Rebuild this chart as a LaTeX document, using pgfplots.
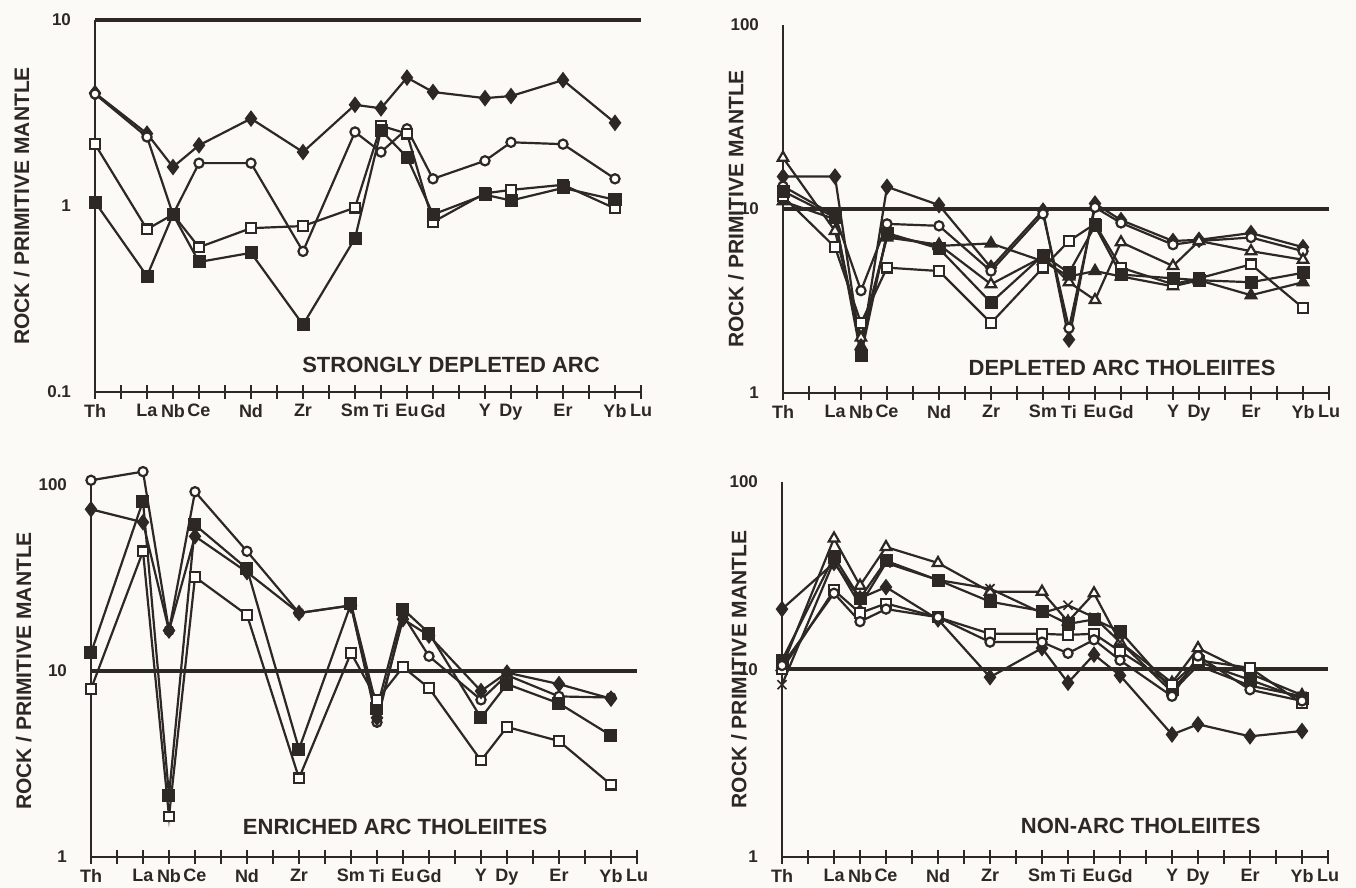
\documentclass[border=0pt]{standalone}
\usepackage{fontspec}
\setmainfont{Liberation Sans}
\usepackage{pgfplots}
\pgfplotsset{compat=1.18}
\definecolor{ink}{RGB}{45,40,36}
\definecolor{paper}{RGB}{251,250,247}
\tikzset{ttl/.style={font=\bfseries\fontsize{11}{13}\selectfont, text=ink}}
\pgfplotsset{
  myspider/.style={
    scale only axis, width=273pt,
    xmin=0, xmax=21,
    axis x line=bottom, axis y line=left,
    axis line style={-, line width=1pt, ink},
    xtick={0,...,21},
    xticklabels={Th,,La,Nb,Ce,,Nd,,Zr,,Sm,Ti,Eu,Gd,,Y,Dy,,Er,,Yb,Lu},
    x tick style={line width=0.8pt, ink},
    major tick length=7pt, tick align=center,
    y tick style={draw=none},
    clip=false,
    xticklabel style={font=\bfseries\fontsize{9}{10}\selectfont, text=ink, yshift=1pt},
    yticklabel style={font=\bfseries\fontsize{8.5}{10}\selectfont, text=ink, xshift=-5pt},
    ylabel={ROCK / PRIMITIVE MANTLE},
    ylabel style={anchor=center, font=\bfseries\fontsize{10.5}{12}\selectfont, text=ink},
    every axis plot/.append style={ink, line width=1.1pt, mark options={line width=0.7pt, solid}},
  },
  fdia/.style={mark=diamond*, mark size=3.3pt, mark options={fill=ink, draw=ink}},
  ocirc/.style={mark=*, mark size=2.3pt, mark options={fill=white, draw=ink}},
  osq/.style={mark=square*, mark size=2.4pt, mark options={fill=white, draw=ink}},
  fsq/.style={mark=square*, mark size=2.7pt, mark options={fill=ink, draw=ink}},
  otri/.style={mark=triangle*, mark size=3pt, mark options={fill=white, draw=ink}},
  ftri/.style={mark=triangle*, mark size=3pt, mark options={fill=ink, draw=ink}},
  xmk/.style={mark=x, mark size=3.2pt, mark options={draw=ink, line width=0.8pt}},
  refline/.style={ink, line width=2pt, no marks, forget plot},
}
\begin{document}
\begin{tikzpicture}
\fill[paper] (0,0) rectangle (678pt,444pt);
\useasboundingbox (0,0) rectangle (678pt,444pt);

% ---------------- Panel 1: strongly depleted arc
\begin{axis}[myspider, ymode=log, yminorticks=false, at={(47.5pt,248pt)}, anchor=south west, height=186pt,
  ymin=0.1, ymax=10, ytick={0.1,1,10}, yticklabels={0.1,1,10},
  ylabel style={at={(axis description cs:-0.134,0.5)}}]
\addplot[refline] coordinates {(0,10) (21,10)};
\addplot[fdia] coordinates {(0,4.05)(2,2.45)(3,1.62)(4,2.12)(6,2.95)(8,1.95)(10,3.5)(11,3.35)(12,4.9)(13,4.1)(15,3.8)(16,3.9)(18,4.75)(20,2.8)};
\addplot[ocirc] coordinates {(0,4.0)(2,2.35)(3,0.9)(4,1.7)(6,1.7)(8,0.57)(10,2.5)(11,1.95)(12,2.6)(13,1.4)(15,1.75)(16,2.2)(18,2.15)(20,1.4)};
\addplot[osq] coordinates {(0,2.15)(2,0.75)(3,0.9)(4,0.6)(6,0.76)(8,0.78)(10,0.98)(11,2.7)(12,2.45)(13,0.82)(15,1.17)(16,1.22)(18,1.3)(20,0.97)};
\addplot[fsq] coordinates {(0,1.05)(2,0.42)(3,0.9)(4,0.5)(6,0.56)(8,0.23)(10,0.67)(11,2.55)(12,1.83)(13,0.9)(15,1.15)(16,1.07)(18,1.25)(20,1.08)};
\node[ttl] at (rel axis cs:0.652,0.073) {STRONGLY DEPLETED ARC};
\end{axis}

% ---------------- Panel 2: depleted arc tholeiites
\begin{axis}[myspider, ymode=log, yminorticks=false, at={(391.5pt,247.5pt)}, anchor=south west, height=184pt,
  ymin=1, ymax=100, ytick={1,10,100}, yticklabels={1,10,100},
  ylabel style={at={(axis description cs:-0.086,0.5)}}]
\addplot[refline] coordinates {(0,10) (21,10)};
\addplot[fdia] coordinates {(0,15)(2,15)(3,1.7)(4,13.2)(6,10.5)(8,4.8)(10,9.8)(11,1.95)(12,10.7)(13,8.7)(15,6.7)(16,6.8)(18,7.4)(20,6.2)};
\addplot[ocirc] coordinates {(0,13.3)(2,9.2)(3,3.6)(4,8.3)(6,8.1)(8,4.6)(10,9.4)(11,2.25)(12,10.2)(13,8.4)(15,6.4)(16,6.7)(18,7.0)(20,5.9)};
\addplot[otri] coordinates {(0,19)(2,7.6)(3,2.0)(4,7.0)(6,6.4)(8,3.9)(10,5.5)(11,4.0)(12,3.2)(13,6.6)(15,4.9)(16,6.7)(18,5.9)(20,5.3)};
\addplot[ftri] coordinates {(0,11)(2,8.8)(3,1.8)(4,7.2)(6,6.3)(8,6.5)(10,5.2)(11,4.3)(12,4.6)(13,4.3)(15,3.8)(16,4.1)(18,3.4)(20,4.0)};
\addplot[osq] coordinates {(0,11.7)(2,6.2)(3,2.4)(4,4.8)(6,4.6)(8,2.4)(10,4.8)(11,6.7)(12,8.3)(13,4.8)(15,3.9)(16,4.2)(18,5.0)(20,2.9)};
\addplot[fsq] coordinates {(0,12.5)(2,9.0)(3,1.6)(4,7.4)(6,6.1)(8,3.1)(10,5.6)(11,4.5)(12,8.1)(13,4.4)(15,4.2)(16,4.1)(18,4.0)(20,4.5)};
\node[ttl] at (rel axis cs:0.621,0.068) {DEPLETED ARC THOLEIITES};
\end{axis}

% ---------------- Panel 3: enriched arc tholeiites
\begin{axis}[myspider, ymode=log, yminorticks=false, at={(45.5pt,15.5pt)}, anchor=south west, height=186pt,
  ymin=1, ymax=100, ytick={1,10,100}, yticklabels={1,10,100},
  ylabel style={at={(axis description cs:-0.123,0.5)}}]
\addplot[refline] coordinates {(0,10) (21,10)};
\addplot[ocirc] coordinates {(0,106)(2,118)(3,16.5)(4,92)(6,44)(8,20.5)(10,22.5)(11,5.3)(12,20)(13,12)(15,7.0)(16,9.5)(18,7.3)(20,7.2)};
\addplot[fdia] coordinates {(0,74)(2,63)(3,16.5)(4,53)(6,34)(8,20.5)(10,22.5)(11,5.6)(12,19)(13,15.5)(15,7.8)(16,9.8)(18,8.5)(20,7.1)};
\addplot[fsq] coordinates {(0,12.5)(2,82)(3,2.15)(4,61)(6,35.5)(8,3.8)(10,23)(11,6.3)(12,21.5)(13,16)(15,5.6)(16,8.5)(18,6.7)(20,4.5)};
\addplot[osq] coordinates {(0,8.0)(2,44)(3,1.65)(4,32)(6,20)(8,2.65)(10,12.5)(11,7.0)(12,10.5)(13,8.1)(15,3.3)(16,5.0)(18,4.2)(20,2.45)};
\node[ttl] at (rel axis cs:0.557,0.08) {ENRICHED ARC THOLEIITES};
\end{axis}

% ---------------- Panel 4: non-arc tholeiites
\begin{axis}[myspider, ymode=log, yminorticks=false, at={(391pt,15.5pt)}, anchor=south west, height=187.5pt,
  ymin=1, ymax=100, ytick={1,10,100}, yticklabels={1,10,100},
  ylabel style={at={(axis description cs:-0.079,0.5)}}]
\addplot[refline] coordinates {(0,10) (21,10)};
\addplot[otri] coordinates {(0,10.3)(2,50)(3,28)(4,45)(6,37)(8,26)(10,26)(11,18)(12,25.5)(13,14)(15,8.5)(16,13)(18,9.5)(20,7.3)};
\addplot[fsq] coordinates {(0,11.2)(2,40)(3,24)(4,38)(6,30)(8,23)(10,20.5)(11,17.5)(12,18.5)(13,16)(15,7.8)(16,11)(18,8.8)(20,7.0)};
\addplot[xmk] coordinates {(0,8.3)(2,38)(3,22)(4,37)(6,30)(8,27)(10,20)(11,22)(12,19)(13,14)(15,7.6)(16,10.5)(18,8.2)(20,7.2)};
\addplot[fdia] coordinates {(0,21)(2,37)(3,24)(4,27.5)(6,18.5)(8,9.1)(10,13)(11,8.5)(12,12)(13,9.3)(15,4.5)(16,5.1)(18,4.4)(20,4.7)};
\addplot[osq] coordinates {(0,10)(2,26.5)(3,20)(4,22.5)(6,19)(8,15.5)(10,15.5)(11,15.3)(12,15.5)(13,12.5)(15,8.3)(16,11.2)(18,10.2)(20,6.6)};
\addplot[ocirc] coordinates {(0,10.5)(2,25.5)(3,18)(4,21)(6,19)(8,14)(10,14)(11,12.2)(12,14.4)(13,11.2)(15,7.2)(16,11.8)(18,7.8)(20,6.8)};
\node[ttl] at (rel axis cs:0.657,0.083) {NON-ARC THOLEIITES};
\end{axis}
\end{tikzpicture}
\end{document}
